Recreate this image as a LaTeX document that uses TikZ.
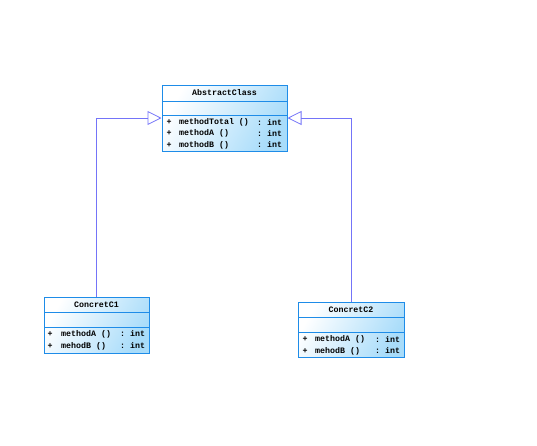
\documentclass[tikz,border=0pt]{standalone}
\usepackage{fontspec}
\setmonofont{Liberation Mono}
\usetikzlibrary{arrows.meta}
\definecolor{boxline}{HTML}{1E8CE8}
\definecolor{boxfill}{HTML}{A8DCFA}
\definecolor{linkline}{HTML}{7474F8}
\tikzset{
  classbox/.style={draw=boxline, line width=1pt, rectangle, inner sep=0pt,
    top color=white, bottom color=boxfill, shading angle=60},
  sep/.style={draw=boxline, line width=1pt},
  label/.style={font=\ttfamily\bfseries\fontsize{8.3}{9}\selectfont, inner sep=0pt, text=black},
  member/.style={label, anchor=west},
  realize/.style={draw=linkline, line width=0.8pt,
    -{Triangle[open, length=14pt, width=14pt, line width=0.8pt]}}
}
\begin{document}
\begin{tikzpicture}[x=1pt, y=-1pt]
  \useasboundingbox (0,0) rectangle (537,445);

  % abstract base class
  \node (abs) [classbox, minimum width=125pt, minimum height=66pt] at (224.5,118) {};
  \node (absT) [label] at (224.5,93) {AbstractClass};
  \coordinate (absL1) at (162,101);
  \coordinate (absL2) at (162,115);
  \draw[sep] (absL1) -- ++(125,0);
  \draw[sep] (absL2) -- ++(125,0);
  \node (absP1) [member] at (166.5,122.5) {+};
  \node (absM1) [member] at (179,122.5) {methodTotal ()};
  \node (absR1) [member] at (257,122.5) {: int};
  \node (absP2) [member] at (166.5,133.5) {+};
  \node (absM2) [member] at (179,133.5) {methodA ()};
  \node (absR2) [member] at (257,133.5) {: int};
  \node (absP3) [member] at (166.5,145) {+};
  \node (absM3) [member] at (179,145) {mothodB ()};
  \node (absR3) [member] at (257,145) {: int};

  % first concrete class
  \node (c1) [classbox, minimum width=105pt, minimum height=56pt] at (96.5,325) {};
  \node (c1T) [label] at (96.5,304.5) {ConcretC1};
  \coordinate (c1L1) at (44,312);
  \coordinate (c1L2) at (44,327);
  \draw[sep] (c1L1) -- ++(105,0);
  \draw[sep] (c1L2) -- ++(105,0);
  \node (c1P1) [member] at (47.5,334) {+};
  \node (c1M1) [member] at (61,334) {methodA ()};
  \node (c1R1) [member] at (120,334) {: int};
  \node (c1P2) [member] at (47.5,346) {+};
  \node (c1M2) [member] at (61,346) {mehodB ()};
  \node (c1R2) [member] at (120,346) {: int};

  % second concrete class
  \node (c2) [classbox, minimum width=106pt, minimum height=55pt] at (351,329.5) {};
  \node (c2T) [label] at (351,310) {ConcretC2};
  \coordinate (c2L1) at (298,317);
  \coordinate (c2L2) at (298,332);
  \draw[sep] (c2L1) -- ++(106,0);
  \draw[sep] (c2L2) -- ++(106,0);
  \node (c2P1) [member] at (302.5,339.5) {+};
  \node (c2M1) [member] at (315,339.5) {methodA ()};
  \node (c2R1) [member] at (375,339.5) {: int};
  \node (c2P2) [member] at (302.5,351) {+};
  \node (c2M2) [member] at (315,351) {mehodB ()};
  \node (c2R2) [member] at (375,351) {: int};

  % generalization links
  \draw[realize] (c1.north) |- (abs.west);
  \draw[realize] (c2.north) |- (abs.east);
\end{tikzpicture}
\end{document}
